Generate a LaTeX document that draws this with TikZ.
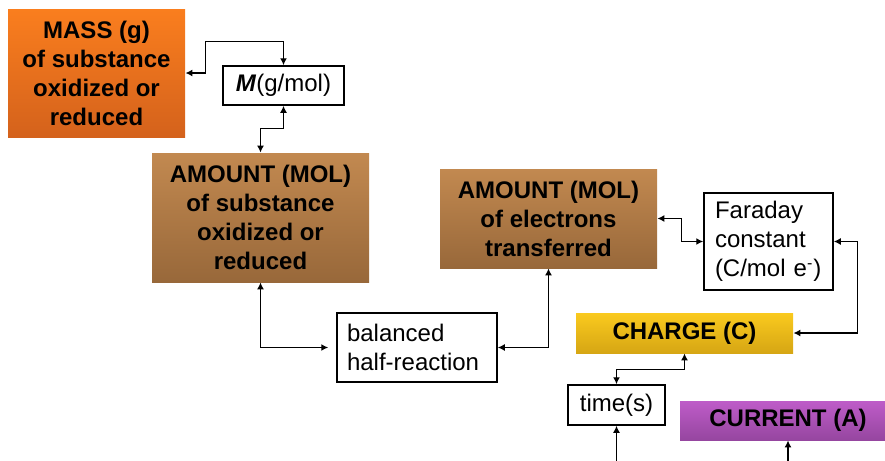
\documentclass[tikz,border=0pt]{standalone}
\usepackage{fontspec}
\setmainfont{Liberation Sans}
\usepackage{tikz}
\usetikzlibrary{positioning, arrows.meta, calc}
\definecolor{masstop}{RGB}{250,126,30}
\definecolor{massbot}{RGB}{212,98,28}
\definecolor{moltop}{RGB}{194,137,80}
\definecolor{molbot}{RGB}{152,104,58}
\definecolor{chargetop}{RGB}{250,202,30}
\definecolor{chargebot}{RGB}{214,166,20}
\definecolor{currtop}{RGB}{190,92,200}
\definecolor{currbot}{RGB}{150,70,160}

\begin{document}
\begin{tikzpicture}[x=0.5pt, y=-0.5pt,
    boldbox/.style={inner sep=0pt, align=center, font=\fontsize{12}{14.5}\selectfont\bfseries},
    whitebox/.style={draw, line width=0.75pt, fill=white, inner sep=0pt, font=\fontsize{12}{14.5}\selectfont},
    link/.style={{Latex[length=3.5pt,width=3.5pt]}-{Latex[length=3.5pt,width=3.5pt]}, line width=0.7pt},
    feed/.style={-{Latex[length=3.5pt,width=3.5pt]}, line width=0.7pt}]
    \useasboundingbox (0,0) rectangle (885,461);

    % Masse
    \node[boldbox, top color=masstop, bottom color=massbot, minimum width=88.5pt, minimum height=64pt] (mass) at (96.5,73) {MASS (g)\\of substance\\oxidized or\\reduced};
    \node[whitebox, minimum width=60.5pt, minimum height=19.5pt] (molar) at (283.5,85.5) {\textbf{\textit{M}}(g/mol)};

    % Quantites de matiere
    \node[boldbox, top color=moltop, bottom color=molbot, minimum width=108.5pt, minimum height=64.5pt] (amtsub) at (260.5,217.5) {AMOUNT (MOL)\\of substance\\oxidized or\\reduced};
    \node[boldbox, top color=moltop, bottom color=molbot, minimum width=108.5pt, minimum height=49.5pt] (amtel) at (548.5,218.5) {AMOUNT (MOL)\\of electrons\\transferred};
    \node[whitebox, inner xsep=5pt, text width=70pt, align=left, minimum height=34.5pt] (halfrx) at (417,347.5) {balanced\\half-reaction};
    \node[whitebox, inner xsep=5.5pt, text width=53.5pt, align=left, minimum height=48.5pt] (faraday) at (768.5,241.5) {Faraday\\constant\\(C/mol e\textsuperscript{-})};

    % Charge, temps, courant
    \node[boldbox, top color=chargetop, bottom color=chargebot, minimum width=108.5pt, minimum height=20pt] (charge) at (684.5,333) {CHARGE (C)};
    \node[whitebox, minimum width=48.5pt, minimum height=20pt] (time) at (616.5,405) {time(s)};
    \node[boldbox, top color=currtop, bottom color=currbot, minimum width=108pt, minimum height=19.5pt] (current) at (788,420.5) {CURRENT (A)};

    % Fleches
    \draw[link] (mass.east) -- ++(20,0) |- ($(molar.north)+(0,-24)$) -- (molar.north);
    \draw[link] (molar.south) -- ++(0,23) -| (amtsub.north);
    \draw[link, shorten >=4pt] (amtsub.south) |- (halfrx.west);
    \draw[link] (amtel.south) |- (halfrx.east);
    \draw[link] (amtel.east) -- ++(24,0) |- (faraday.west);
    \draw[link] (faraday.east) -- ++(24,0) |- (charge.east);
    \draw[link] (charge.south) -- ++(0,16) -| (time.north);

    \coordinate (timefoot) at (time.south |- 0,461);
    \coordinate (currfoot) at (current.south |- 0,461);
    \draw[feed] (timefoot) -- (time.south);
    \draw[feed] (currfoot) -- (current.south);
\end{tikzpicture}
\end{document}
